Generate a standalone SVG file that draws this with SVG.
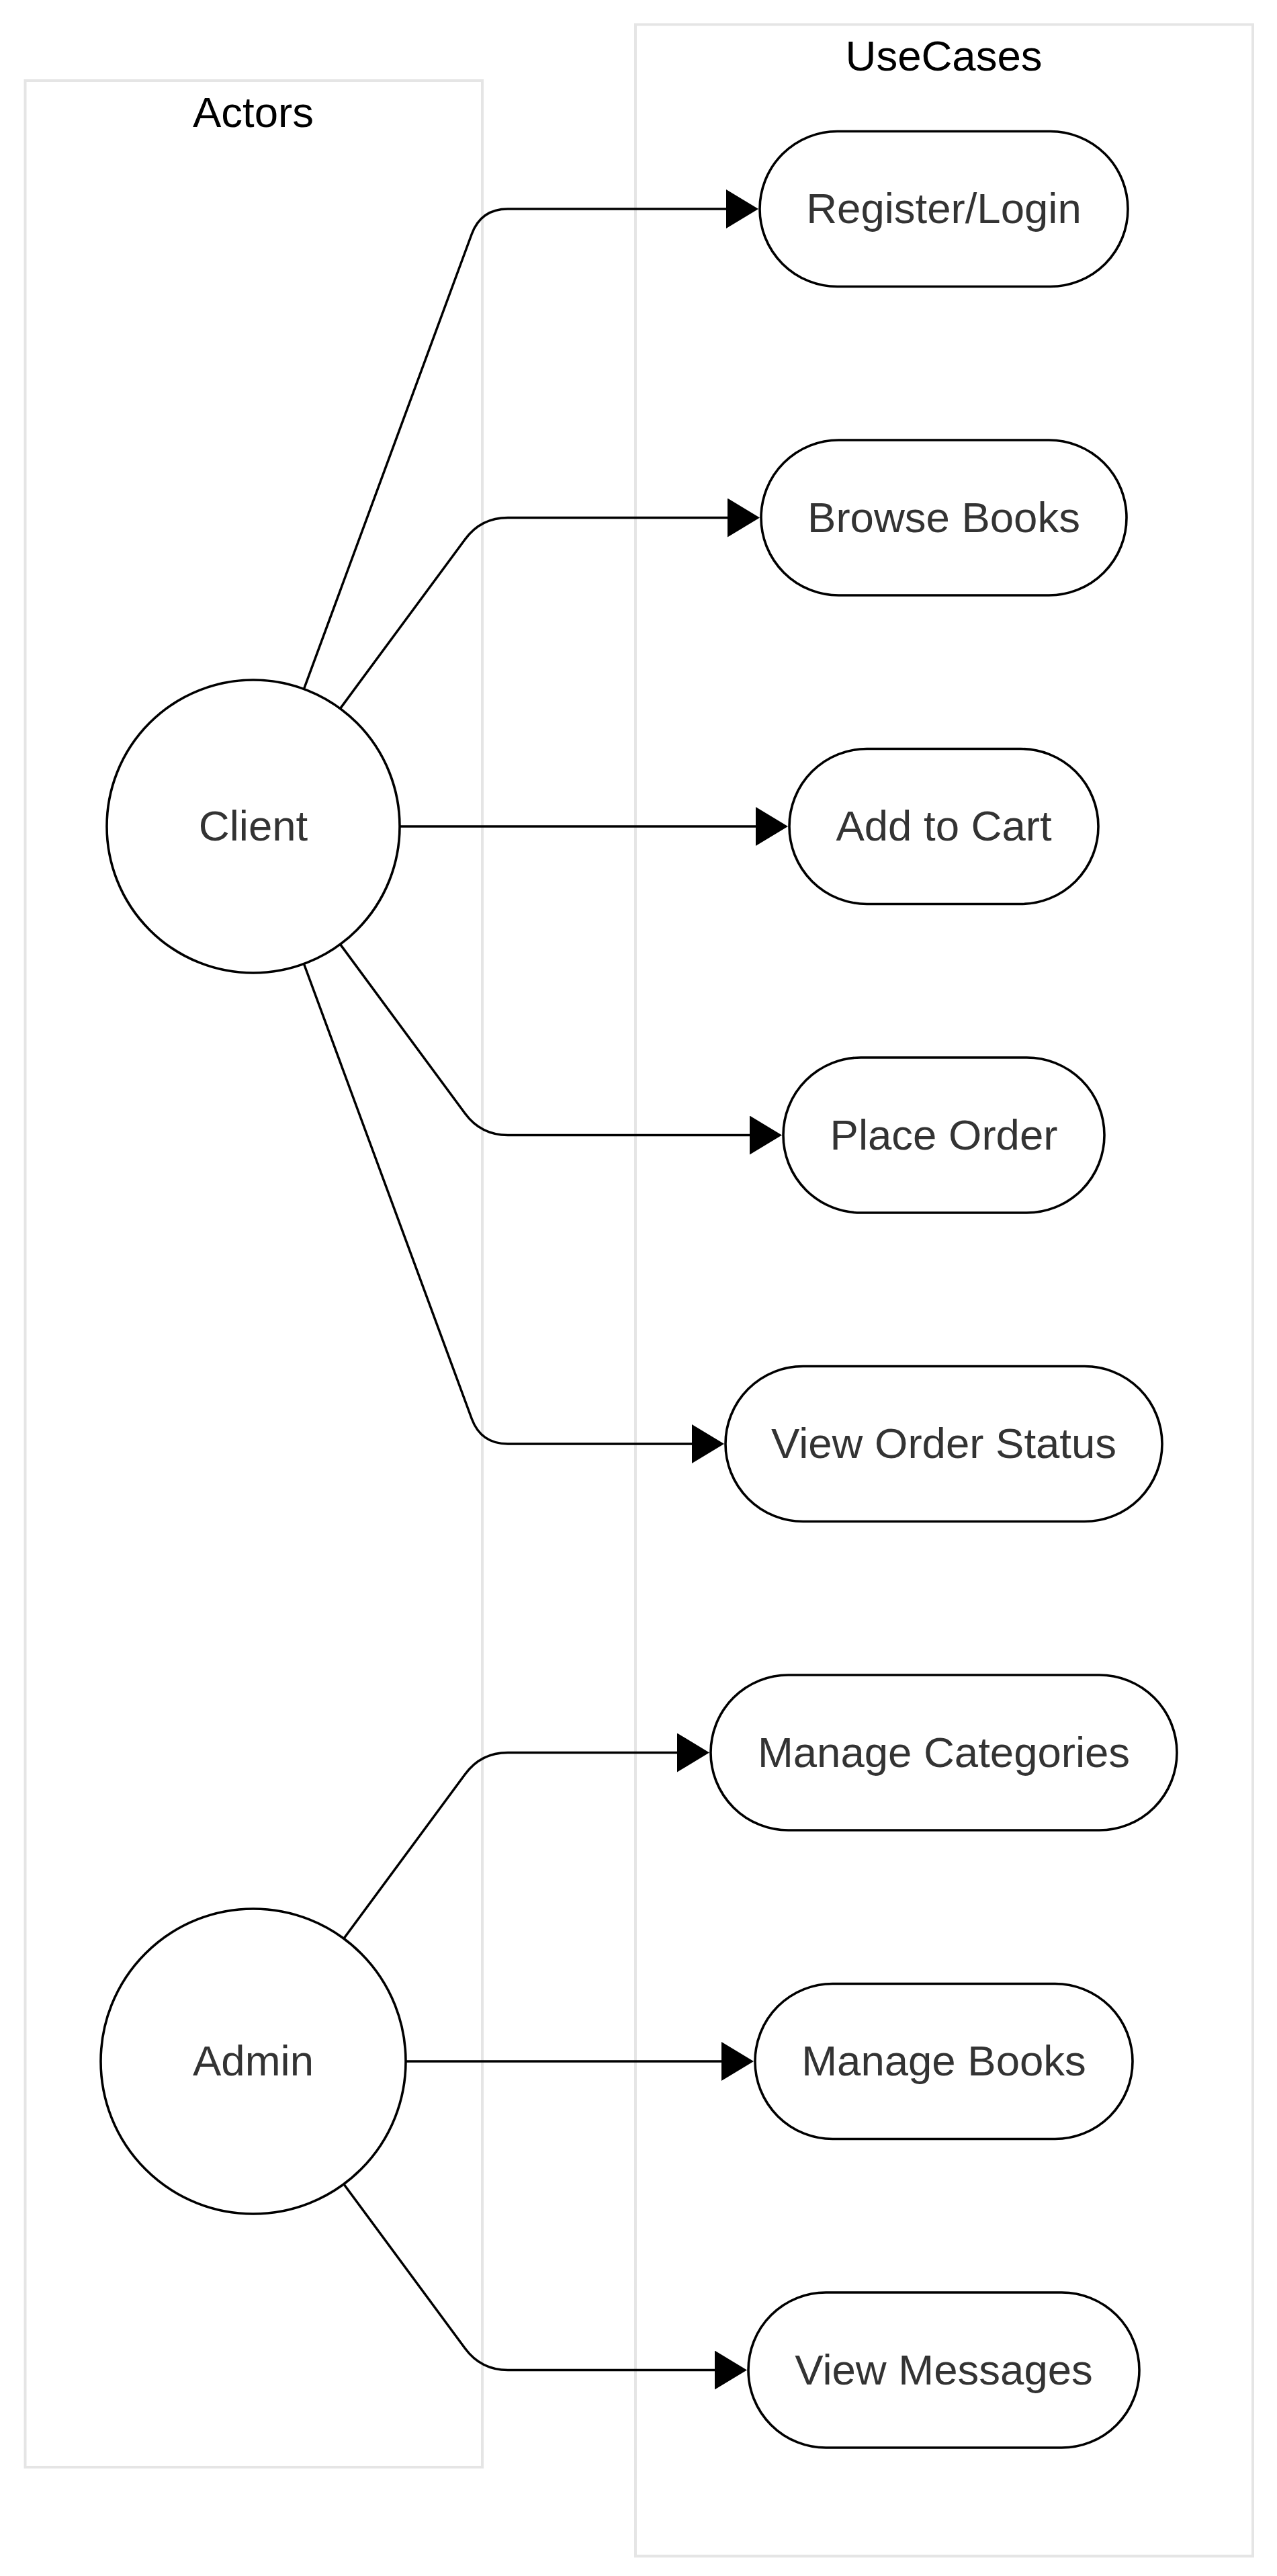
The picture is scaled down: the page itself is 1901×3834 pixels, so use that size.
<svg xmlns="http://www.w3.org/2000/svg" width="1901" height="3834" viewBox="0 0 1901 3834">
<style>
.cluster{fill:#ffffff;stroke:#e5e5e5;stroke-width:4}
.title{font-family:"Liberation Sans",Arial,sans-serif;font-size:63.5px;fill:#000000;text-anchor:middle}
.node{fill:#ffffff;stroke:#000000;stroke-width:3.6}
.label{font-family:"Liberation Sans",Arial,sans-serif;font-size:63.5px;fill:#333333;text-anchor:middle}
.edge{fill:none;stroke:#000000;stroke-width:3.5}
</style>
<defs>
<marker id="arrow" viewBox="0 0 48 58" refX="38" refY="29" markerWidth="48" markerHeight="58" markerUnits="userSpaceOnUse" orient="auto">
<path d="M0,0 L48,29 L0,58 z" fill="#000000"/>
</marker>
</defs>
<rect width="1901" height="3834" fill="#ffffff"/>
<g id="cluster-actors">
<rect class="cluster" x="37.5" y="120" width="680.5" height="3552"/>
<text class="title" x="377" y="189">Actors</text>
</g>
<g id="cluster-usecases">
<rect class="cluster" x="946" y="36.5" width="919" height="3768"/>
<text class="title" x="1405" y="105">UseCases</text>
</g>
<g id="edges">
<path class="edge" marker-end="url(#arrow)" d="M452.4,1025.5 L702.2,348.5 Q716,311 756,311 L1119,311"/>
<path class="edge" marker-end="url(#arrow)" d="M506.4,1054.6 L692.3,802.7 Q716,770.5 756,770.5 L1121,770.5"/>
<path class="edge" marker-end="url(#arrow)" d="M595,1230 L1163,1230"/>
<path class="edge" marker-end="url(#arrow)" d="M506.4,1405.4 L692.3,1657.3 Q716,1689.5 756,1689.5 L1154,1689.5"/>
<path class="edge" marker-end="url(#arrow)" d="M452.4,1434.5 L702.2,2111.5 Q716,2149 756,2149 L1068,2149"/>
<path class="edge" marker-end="url(#arrow)" d="M511.8,2885.3 L692.3,2640.7 Q716,2608.5 756,2608.5 L1046,2608.5"/>
<path class="edge" marker-end="url(#arrow)" d="M604,3068 L1112,3068"/>
<path class="edge" marker-end="url(#arrow)" d="M511.8,3250.7 L692.3,3495.3 Q716,3527.5 756,3527.5 L1102,3527.5"/>
</g>
<g id="node-client">
<circle class="node" cx="377" cy="1230" r="218"/>
<text class="label" x="377" y="1251">Client</text>
</g>
<g id="node-admin">
<circle class="node" cx="377" cy="3068" r="227"/>
<text class="label" x="377" y="3089">Admin</text>
</g>
<g id="node-register">
<rect class="node" x="1131" y="195.5" width="548" height="231" rx="115.5" ry="115.5"/>
<text class="label" x="1405" y="332">Register/Login</text>
</g>
<g id="node-browse">
<rect class="node" x="1133" y="655" width="544" height="231" rx="115.5" ry="115.5"/>
<text class="label" x="1405" y="791.5">Browse Books</text>
</g>
<g id="node-cart">
<rect class="node" x="1175" y="1114.5" width="460" height="231" rx="115.5" ry="115.5"/>
<text class="label" x="1405" y="1251">Add to Cart</text>
</g>
<g id="node-order">
<rect class="node" x="1166" y="1574" width="478" height="231" rx="115.5" ry="115.5"/>
<text class="label" x="1405" y="1710.5">Place Order</text>
</g>
<g id="node-status">
<rect class="node" x="1080" y="2033.5" width="650" height="231" rx="115.5" ry="115.5"/>
<text class="label" x="1405" y="2170">View Order Status</text>
</g>
<g id="node-categories">
<rect class="node" x="1058" y="2493" width="694" height="231" rx="115.5" ry="115.5"/>
<text class="label" x="1405" y="2629.5">Manage Categories</text>
</g>
<g id="node-books">
<rect class="node" x="1124" y="2952.5" width="562" height="231" rx="115.5" ry="115.5"/>
<text class="label" x="1405" y="3089">Manage Books</text>
</g>
<g id="node-messages">
<rect class="node" x="1114" y="3412" width="582" height="231" rx="115.5" ry="115.5"/>
<text class="label" x="1405" y="3548.5">View Messages</text>
</g>
</svg>
